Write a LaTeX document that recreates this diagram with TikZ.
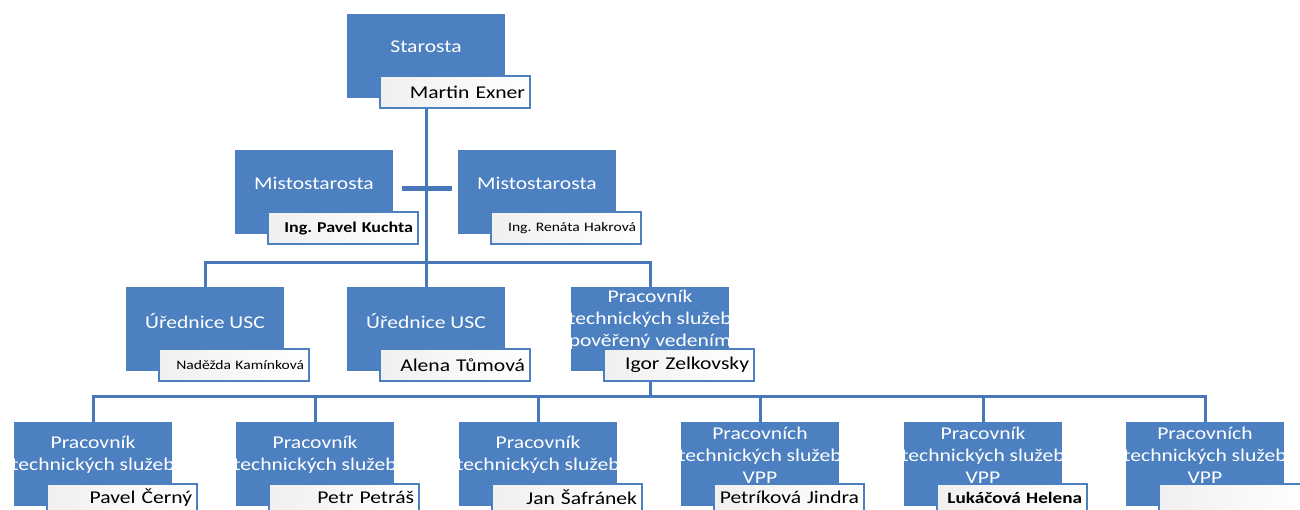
\documentclass[tikz,border=0pt]{standalone}
\usepackage{fontspec}
\setmainfont{Carlito}[FakeStretch=1.2]
\usepackage{tikz}
\usetikzlibrary{positioning}
\definecolor{orgblue}{RGB}{77,128,192}
\definecolor{lineblue}{RGB}{72,120,186}
\tikzset{
  role/.style={rectangle, fill=orgblue, minimum width=158pt,
    minimum height=84pt, inner sep=0pt},
  title/.style={text=white, align=center, inner sep=0pt,
    font=\fontsize{18}{22}\selectfont},
  person/.style={rectangle, draw=orgblue, line width=2.5pt,
    left color=black!6, right color=white, anchor=north west,
    minimum width=150pt, minimum height=32pt, text width=140pt,
    align=right, inner xsep=5pt, inner ysep=0pt,
    font=\fontsize{18}{22}\selectfont},
  lowperson/.style={person, minimum height=27pt},
  smallname/.style={font=\fontsize{13}{15}\selectfont},
  conn/.style={draw=lineblue, line width=3pt}
}
\frenchspacing

\begin{document}
\begin{tikzpicture}[x=1pt, y=-1pt]
  \useasboundingbox (0,0) rectangle (1300,509);

  % Starosta
  \node[role] (starosta) at (426,56) {};
  \node[title] (starostaT) at ([yshift=-33pt]starosta.north) {Starosta};
  \node[person] (exner) at ([xshift=32pt,yshift=-61pt]starosta.north west) {Martin Exner};

  % Mistostarosta
  \node[role] (mistoA) at (314,192) {};
  \node[title] (mistoAT) at ([yshift=-34pt]mistoA.north) {Mistostarosta};
  \node[person, font=\fontsize{15}{18}\selectfont\bfseries] (kuchta)
    at ([xshift=32pt,yshift=-61pt]mistoA.north west) {Ing. Pavel Kuchta};

  \node[role] (mistoB) at (537,192) {};
  \node[title] (mistoBT) at ([yshift=-34pt]mistoB.north) {Mistostarosta};
  \node[person, smallname] (hakrova)
    at ([xshift=32pt,yshift=-61pt]mistoB.north west) {Ing. Renáta Hakrová};

  % Second row
  \node[role] (uredA) at (205,329) {};
  \node[title] (uredAT) at ([yshift=-34pt]uredA.north) {Úřednice USC};
  \node[person, smallname] (kaminkova)
    at ([xshift=32pt,yshift=-61pt]uredA.north west) {Naděžda Kamínková};

  \node[role] (uredB) at (426,329) {};
  \node[title] (uredBT) at ([yshift=-34pt]uredB.north) {Úřednice USC};
  \node[person] (tumova)
    at ([xshift=32pt,yshift=-61pt]uredB.north west) {Alena Tůmová};

  \node[role] (tech) at (650,329) {};
  \node[title] (techT) at ([yshift=-33pt]tech.north)
    {Pracovník\\technických služeb\\pověřený vedením};
  \node[person] (igor)
    at ([xshift=32pt,yshift=-61pt]tech.north west) {Igor Zelkovsky};

  % Bottom row
  \node[role] (techA) at (93,464) {};
  \node[title] (techAT) at ([yshift=-33pt]techA.north) {Pracovník\\technických služeb};
  \node[lowperson] (cerny) at ([xshift=32pt,yshift=-61pt]techA.north west) {Pavel Černý};

  \node[role] (techB) at (315,464) {};
  \node[title] (techBT) at ([yshift=-33pt]techB.north) {Pracovník\\technických služeb};
  \node[lowperson] (petras) at ([xshift=32pt,yshift=-61pt]techB.north west) {Petr Petráš};

  \node[role] (techC) at (538,464) {};
  \node[title] (techCT) at ([yshift=-33pt]techC.north) {Pracovník\\technických služeb};
  \node[lowperson] (safranek) at ([xshift=32pt,yshift=-61pt]techC.north west) {Jan Šafránek};

  \node[role] (techD) at (760,464) {};
  \node[title] (techDT) at ([yshift=-33pt]techD.north) {Pracovních\\technických služeb\\VPP};
  \node[lowperson] (petrikova) at ([xshift=32pt,yshift=-61pt]techD.north west) {Petríková Jindra};

  \node[role] (techE) at (983,464) {};
  \node[title] (techET) at ([yshift=-33pt]techE.north) {Pracovník\\technických služeb\\VPP};
  \node[lowperson, font=\fontsize{16}{18}\selectfont\bfseries] (lukacova)
    at ([xshift=32pt,yshift=-61pt]techE.north west) {Lukáčová Helena};

  \node[role] (techF) at (1205,464) {};
  \node[title] (techFT) at ([yshift=-33pt]techF.north) {Pracovních\\technických služeb\\VPP};
  \node[lowperson] (vacant) at ([xshift=32pt,yshift=-61pt]techF.north west) {};

  % Paths
  \coordinate (hub1) at (426,262);
  \coordinate (hub2) at (650,396);
  \draw[conn] (exner.south -| starosta) -- (uredB.north);
  \draw[conn] (uredA.north) |- (hub1) -| (tech.north);
  \draw[conn, line width=5pt] ([xshift=9pt,yshift=4pt]mistoA.east) -- ([xshift=-6pt,yshift=4pt]mistoB.west);

  \draw[conn] (igor.south -| tech) -- (hub2);
  \draw[conn] (techA.north) |- (hub2) -| (techF.north);
  \foreach \n in {techB,techC,techD,techE}
    \draw[conn] (\n.north) -- (\n.north |- hub2);
\end{tikzpicture}
\end{document}
